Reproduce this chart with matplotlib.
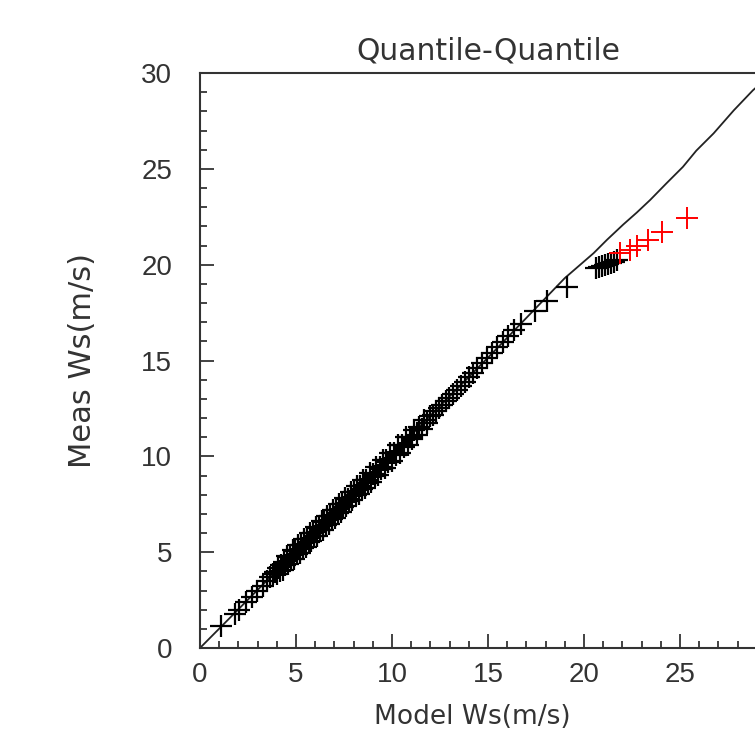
import matplotlib
matplotlib.use("Agg")
import matplotlib.pyplot as plt
from matplotlib.ticker import MultipleLocator

# quantiles of model wind speed (x) and measured wind speed (y)
model_q = [1.1, 1.8, 2.05, 2.4, 2.7, 2.95, 3.3, 3.5, 3.65, 3.8,
           3.9, 4.0, 4.08, 4.15, 4.22, 4.3, 4.38, 4.45, 4.52, 4.6,
           4.67, 4.74, 4.82, 4.9, 4.97, 5.05, 5.12, 5.2, 5.28, 5.35,
           5.43, 5.5, 5.58, 5.66, 5.73, 5.8, 5.88, 5.96, 6.03, 6.1,
           6.18, 6.26, 6.33, 6.41, 6.48, 6.56, 6.63, 6.71, 6.79, 6.86,
           6.94, 7.01, 7.09, 7.17, 7.24, 7.32, 7.4, 7.47, 7.55, 7.63,
           7.7, 7.78, 7.86, 7.94, 8.02, 8.1, 8.18, 8.26, 8.34, 8.42,
           8.5, 8.58, 8.66, 8.75, 8.83, 8.92, 9.0, 9.09, 9.17, 9.26,
           9.35, 9.44, 9.53, 9.62, 9.71, 9.8, 9.9, 10.0, 10.1, 10.2,
           10.3, 10.4, 10.5, 10.6, 10.71, 10.82, 10.93, 11.05, 11.17, 11.29,
           11.42, 11.55, 11.69, 11.83, 11.98, 12.13, 12.28, 12.45, 12.62, 12.8,
           12.98, 13.17, 13.37, 13.57, 13.78, 14.0, 14.22, 14.45, 14.7, 14.95,
           15.2, 15.48, 15.76, 16.05, 16.35, 16.7, 17.45, 18.05, 19.1,
           20.6, 20.8, 20.95, 21.1, 21.25, 21.4, 21.55, 21.7]
meas_q = [1.15, 1.8, 2.0, 2.4, 2.65, 2.95, 3.25, 3.5, 3.7, 3.85,
          3.95, 3.88, 4.2, 4.03, 4.34, 4.06, 4.48, 4.33, 4.8, 4.36,
          4.77, 4.62, 5.1, 4.66, 5.07, 4.93, 5.4, 4.96, 5.38, 5.23,
          5.71, 5.26, 5.68, 5.54, 6.01, 5.56, 5.98, 5.84, 6.31, 5.86,
          6.28, 6.14, 6.61, 6.17, 6.58, 6.44, 6.91, 6.47, 6.89, 6.74,
          7.22, 6.77, 7.19, 7.05, 7.52, 7.08, 7.5, 7.35, 7.83, 7.39,
          7.8, 7.66, 8.14, 7.7, 8.12, 7.98, 8.46, 8.02, 8.44, 8.3,
          8.78, 8.34, 8.76, 8.63, 9.11, 8.68, 9.1, 8.97, 9.45, 9.02,
          9.45, 9.32, 9.81, 9.38, 9.81, 9.68, 10.18, 9.76, 10.2, 10.08,
          10.58, 10.16, 10.6, 10.48, 10.99, 10.58, 11.03, 10.93, 11.4, 11.1,
          11.52, 11.45, 11.89, 11.73, 12.13, 12.15, 12.38, 12.51, 12.69, 12.87,
          13.06, 13.26, 13.46, 13.67, 13.89, 14.12, 14.35, 14.6, 14.86, 15.12,
          15.4, 15.68, 15.98, 16.3, 16.6, 16.9, 17.6, 18.1, 18.85,
          19.85, 19.9, 19.95, 20.0, 20.05, 20.1, 20.15, 20.25]

# highest quantiles, shown in red
model_top = [21.9, 22.4, 22.75, 23.35, 24.05, 25.35]
meas_top = [20.6, 20.75, 20.95, 21.3, 21.7, 22.45]

# reference curve
ref_x = [0, 5, 10, 15, 19, 20.5, 21.2, 22.05, 22.75, 23.45, 24.3, 25.15,
         25.85, 26.75, 27.8, 28.8, 29.6, 30]
ref_y = [0, 5.05, 10.1, 15.15, 19.3, 20.6, 21.3, 22.1, 22.72, 23.38, 24.25, 25.1,
         25.95, 26.85, 28.05, 29.1, 29.8, 30.3]

fig = plt.figure(figsize=(7.55, 7.34), dpi=100)
# axes runs past the right edge (x=30 is off the picture)
ax = fig.add_axes([200 / 755, 86 / 734, 576 / 755, 575 / 734])

ax.plot(ref_x, ref_y, color="#222222", lw=1.3, zorder=2)
ax.plot(model_q, meas_q, linestyle="none", marker="+", color="black",
        markersize=15.5, markeredgewidth=1.6, zorder=3)
ax.plot(model_top, meas_top, linestyle="none", marker="+", color="red",
        markersize=15.5, markeredgewidth=1.4, zorder=3)

ax.set_xlim(0, 30)
ax.set_ylim(0, 30)
ax.set_xticks([0, 5, 10, 15, 20, 25])
ax.yaxis.set_major_locator(MultipleLocator(5))
ax.xaxis.set_minor_locator(MultipleLocator(1))
ax.yaxis.set_minor_locator(MultipleLocator(1))

for side in ["left", "bottom", "top", "right"]:
    ax.spines[side].set_color("#333333")
    ax.spines[side].set_linewidth(1.5)

ax.tick_params(which="both", direction="in", color="#222222", width=1.2,
               labelcolor="#333333", labelsize=20)
ax.tick_params(which="major", length=10)
ax.tick_params(which="minor", length=5)
ax.tick_params(axis="y", pad=20)
ax.tick_params(axis="x", pad=10)
for lab in ax.get_xticklabels() + ax.get_yticklabels():
    lab.set_fontfamily("Liberation Sans")

ax.set_title("Quantile-Quantile", fontsize=21.5, color="#333333", pad=10)
ax.set_xlabel("Model Ws(m/s)", fontsize=19, color="#333333")
ax.set_ylabel("Meas Ws(m/s)", fontsize=22, color="#333333", labelpad=32)
ax.xaxis.set_label_coords((472 - 200) / 576, -0.098)

fig.savefig("out.png", dpi=100)
